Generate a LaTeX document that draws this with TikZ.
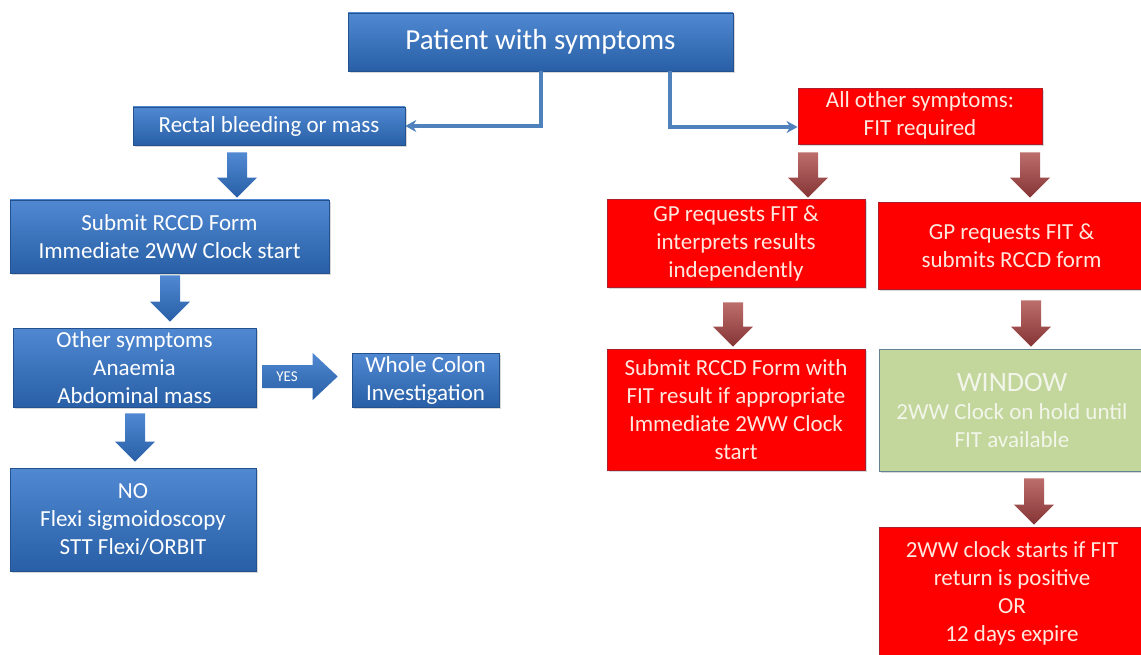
\documentclass[tikz,border=0pt]{standalone}
\usepackage{fontspec}
\setmainfont{Carlito}
\usetikzlibrary{shadows,calc,arrows.meta}
\definecolor{bluetop}{RGB}{80,137,210}
\definecolor{bluebot}{RGB}{40,95,166}
\definecolor{blueline}{RGB}{79,129,189}
\definecolor{redfill}{RGB}{255,0,0}
\definecolor{redline}{RGB}{175,30,40}
\definecolor{redtext}{RGB}{255,232,222}
\definecolor{greenfill}{RGB}{195,214,155}
\definecolor{greenline}{RGB}{100,130,150}
\definecolor{greentext}{RGB}{242,246,234}
\definecolor{browntop}{RGB}{188,110,108}
\definecolor{brownbot}{RGB}{132,52,52}
\tikzset{
  box/.style={inner sep=0pt, align=center, font=\fontsize{23}{28}\selectfont,
    drop shadow={opacity=0.3, shadow xshift=2pt, shadow yshift=-2pt}},
  bluebox/.style={box, top color=bluetop, bottom color=bluebot, draw=bluebot!85!black, line width=0.6pt, text=white},
  redbox/.style={box, fill=redfill, draw=redline, line width=0.9pt, text=redtext},
  greenbox/.style={box, fill=greenfill, draw=greenline, line width=0.9pt, text=greentext},
  conn/.style={draw=blueline, line width=3.6pt, -{Stealth[length=11pt,width=12pt]}},
  bluearrow/.style={top color=bluetop, bottom color=bluebot},
  brownarrow/.style={top color=browntop, bottom color=brownbot},
}
% #1 style, #2 x centre (pt), #3 from node, #4 to node, #5 gap below #3, #6 gap above #4
\newcommand\blockdown[6]{%
  \path[#1] let \p1=(#3.south), \p2=(#4.north), \n1={\y1-#5pt}, \n2={\y2+#6pt}, \n3={\y2+#6pt+20pt} in
    ({#2pt-10pt},\n1) -- ({#2pt+10pt},\n1) -- ({#2pt+10pt},\n3) -- ({#2pt+20pt},\n3)
    -- ({#2pt},\n2) -- ({#2pt-20pt},\n3) -- ({#2pt-10pt},\n3) -- cycle;}
\begin{document}
\begin{tikzpicture}[x=1pt,y=-1pt]
\useasboundingbox (0,0) rectangle (1141,655);
\fill[white] (0,0) rectangle (1141,655);

% left (blue) branch
\node[bluebox, minimum width=385pt, minimum height=58pt, font=\fontsize{29}{34}\selectfont] (pat) at (540.5,42) {Patient with symptoms};
\node[bluebox, minimum width=272pt, minimum height=38pt] (rect) at (269,126) {Rectal bleeding or mass};
\node[bluebox, minimum width=319pt, minimum height=73pt] (sub) at (169.5,236.5) {Submit RCCD Form\\Immediate 2WW Clock start};
\node[bluebox, minimum width=243pt, minimum height=79pt] (oth) at (134.5,367.5) {Other symptoms\\Anaemia\\Abdominal mass};
\node[bluebox, minimum width=147pt, minimum height=54pt] (whole) at (425.5,380) {Whole Colon\\Investigation};
\node[bluebox, minimum width=246pt, minimum height=103pt] (no) at (133,519.5) {NO\\Flexi sigmoidoscopy\\STT Flexi/ORBIT};

% right (red) branch
\node[redbox, minimum width=244pt, minimum height=56pt] (all) at (920,116) {\raisebox{-3pt}{\begin{tabular}{@{}c@{}}All other symptoms:\\FIT required\end{tabular}}};
\node[redbox, minimum width=258pt, minimum height=88pt] (gpi) at (736,243) {GP requests FIT \&\\interprets results\\independently};
\node[redbox, minimum width=267pt, minimum height=87pt] (gps) at (1011.5,245.5) {GP requests FIT \&\\submits RCCD form};
\node[redbox, minimum width=258pt, minimum height=121pt] (subfit) at (736,409.5) {Submit RCCD Form with\\FIT result if appropriate\\Immediate 2WW Clock\\start};
\node[greenbox, minimum width=266pt, minimum height=122pt] (win) at (1012,410) {{\fontsize{28}{33}\selectfont WINDOW}\\2WW Clock on hold until\\FIT available};
\node[redbox, minimum width=266pt, minimum height=133pt] (clk) at (1012,593.5) {2WW clock starts if FIT\\return is positive\\OR\\12 days expire};

% line connectors from the top box
\coordinate (cl) at (541,0);
\coordinate (cr) at (670,0);
\draw[conn] (pat.south -| cl) |- (rect.east);
\draw[conn] (pat.south -| cr) |- ([yshift=-11pt]all.west);

% block arrows
\blockdown{bluearrow}{237}{rect}{sub}{7}{2}
\blockdown{bluearrow}{170}{sub}{oth}{2}{6}
\blockdown{bluearrow}{135}{oth}{no}{6}{6}
\blockdown{brownarrow}{808}{all}{gpi}{8}{1}
\blockdown{brownarrow}{1030}{all}{gps}{8}{4}
\blockdown{brownarrow}{733}{gpi}{subfit}{15}{2}
\blockdown{brownarrow}{1031}{gps}{win}{11}{2}
\blockdown{brownarrow}{1034}{win}{clk}{7}{2}

% YES arrow
\path[bluearrow] let \p1=(oth.east), \p2=(whole.west) in
  (\x1+6pt,-365pt) -- (\x2-39pt,-365pt) -- (\x2-39pt,-353pt) -- (\x2-14pt,-376.5pt)
  -- (\x2-39pt,-400pt) -- (\x2-39pt,-388pt) -- (\x1+6pt,-388pt) -- cycle;
\node[text=white, font=\fontsize{15}{18}\selectfont] (yes) at (287,377) {YES};
\end{tikzpicture}
\end{document}
